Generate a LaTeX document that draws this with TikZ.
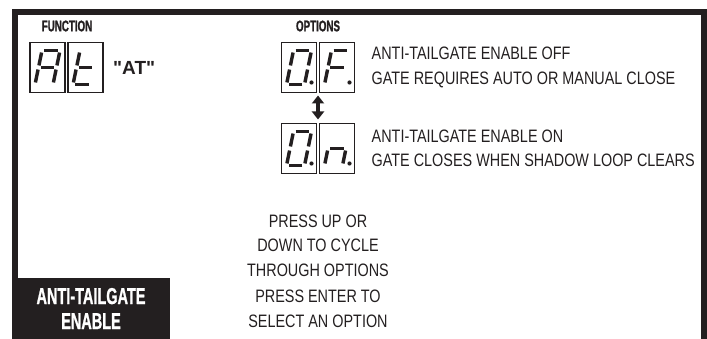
\documentclass[tikz,border=0pt]{standalone}
\usepackage{fontspec}
\setmainfont{Liberation Sans}
\newfontfamily\narrowfont{Liberation Sans}[FakeStretch=0.8]
\newfontfamily\condfont{Liberation Sans Bold}[FakeStretch=0.63, FakeBold=1]
\newfontfamily\quotefont{Liberation Sans Bold}
\usetikzlibrary{positioning, arrows.meta, calc}

\definecolor{ink}{RGB}{35,31,32}

% seven segment digit inside a named box
\newcommand{\segdigit}[2]{%
  \coordinate (#1-TL) at ([shift={(12,8)}]#1.north west);
  \coordinate (#1-TR) at ([shift={(30,8)}]#1.north west);
  \coordinate (#1-ML) at ([shift={(8.5,25)}]#1.north west);
  \coordinate (#1-MR) at ([shift={(26.5,25)}]#1.north west);
  \coordinate (#1-BL) at ([shift={(5,42)}]#1.north west);
  \coordinate (#1-BR) at ([shift={(23,42)}]#1.north west);
  \foreach \p/\q in {#2}
    \draw[segment] (#1-\p) -- (#1-\q);
}
\newcommand{\segdot}[1]{\fill[ink] ([shift={(30,40)}]#1.north west) circle (2.1);}

\begin{document}
\begin{tikzpicture}[
        x=1pt, y=-1pt,
        node distance=17pt,
        digitbox/.style={draw=ink, line width=1.3pt, minimum width=35pt, minimum height=50pt, inner sep=0pt, outer sep=0pt},
        segment/.style={ink, line width=3.4pt, shorten <=2.1pt, shorten >=2.1pt},
        heading/.style={font=\condfont\fontsize{15.5}{16}\selectfont, text=ink, inner sep=0pt},
        note/.style={font=\narrowfont\fontsize{18}{24.5}\selectfont, text=ink, align=left, inner sep=0pt},
        hint/.style={note, align=center},
        updown/.style={{Triangle[length=8pt,width=12pt]}-{Triangle[length=8pt,width=12pt]}, line width=3.6pt, draw=ink, fill=ink}
    ]
    \useasboundingbox (0,0) rectangle (707,339);

    % frame
    \draw[ink, line width=5.5pt] (14.75,282) -- (14.75,12.25) -- (704,12.25) -- (704,339);

    \node[heading] (func) at (67,26) {FUNCTION};
    \node[heading] (opts) at (318,26) {OPTIONS};

    % function display
    \node[digitbox] (at1) at (47.5,67.5) {};
    \node[digitbox, right=3pt of at1] (at2) {};
    \segdigit{at1}{TL/TR, TR/MR, MR/BR, BL/ML, ML/TL, ML/MR}
    \segdigit{at2}{TL/ML, ML/BL, BL/BR, ML/MR}
    \node[font=\quotefont\fontsize{19}{20}\selectfont, text=ink, inner sep=0pt, right=10pt of at2] (atname) {\char34{}AT\char34};

    % option displays
    \node[digitbox] (of1) at (299,67.5) {};
    \node[digitbox, right=3pt of of1] (of2) {};
    \node[digitbox, below=31pt of of1] (on1) {};
    \node[digitbox, right=3pt of on1] (on2) {};
    \segdigit{of1}{TL/TR, TR/MR, MR/BR, BR/BL, BL/ML, ML/TL}
    \segdigit{of2}{TL/TR, TL/ML, ML/BL, ML/MR}
    \segdigit{on1}{TL/TR, TR/MR, MR/BR, BR/BL, BL/ML, ML/TL}
    \segdigit{on2}{ML/MR, ML/BL, MR/BR}
    \segdot{of1} \segdot{of2} \segdot{on1} \segdot{on2}

    \draw[updown] ($(of1.south east)!0.5!(of2.south west)+(0,3)$) -- ($(on1.north east)!0.5!(on2.north west)+(0,-4)$);

    \node[note, right=17pt of of2] (offtext) {ANTI-TAILGATE ENABLE OFF\\GATE REQUIRES AUTO OR MANUAL CLOSE};
    \node[note, right=17pt of on2] (ontext) {ANTI-TAILGATE ENABLE ON\\GATE CLOSES WHEN SHADOW LOOP CLEARS};

    \node[hint] (cycle) at (318,245.5) {PRESS UP OR\\DOWN TO CYCLE\\THROUGH OPTIONS};
    \node[hint] (enter) at (318,309) {PRESS ENTER TO\\SELECT AN OPTION};

    % title tab
    \node[fill=ink, minimum width=158pt, minimum height=61pt, inner sep=0pt, text=white, align=center,
          font=\condfont\fontsize{23}{25}\selectfont] (title) at (91,308.5) {ANTI-TAILGATE\\ENABLE};
\end{tikzpicture}
\end{document}
